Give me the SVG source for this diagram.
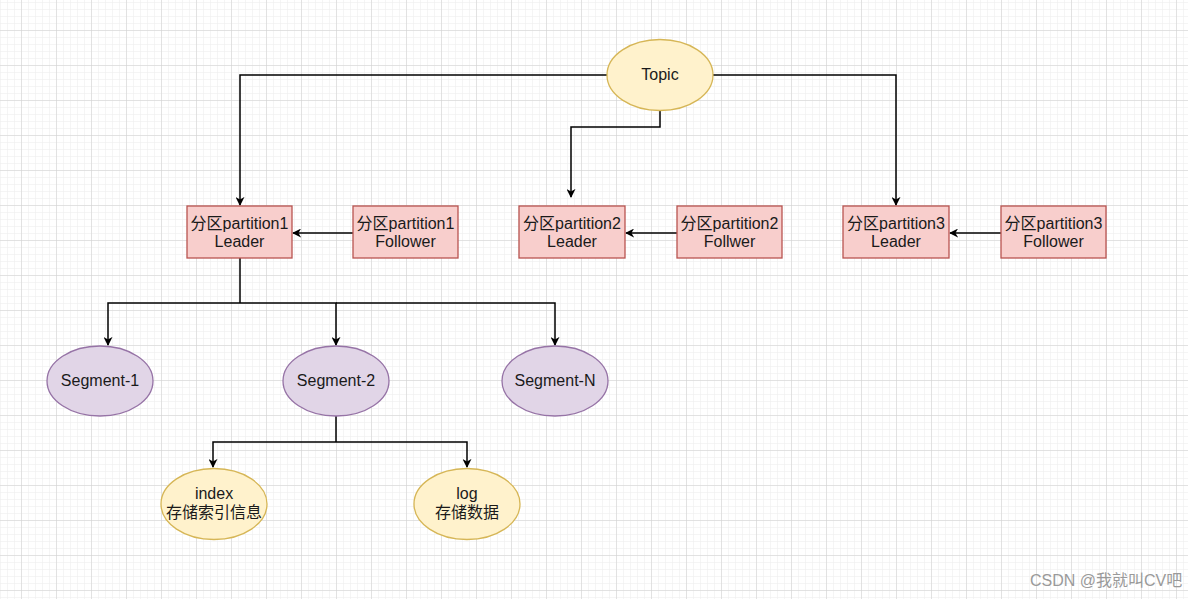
<svg xmlns="http://www.w3.org/2000/svg" width="1188" height="599" viewBox="0 0 1188 599">
<style>
.t{font-family:"Liberation Sans","Noto Sans CJK SC",Arial,sans-serif;font-size:16px;fill:#1a1a1a;text-anchor:middle}
.yel{fill:#fff2cc;stroke:#d6b656;stroke-width:1.3}
.red{fill:#f8cecc;stroke:#b85450;stroke-width:1.3}
.pur{fill:#e1d5e7;stroke:#9673a6;stroke-width:1.3}
.e{fill:none;stroke:#000;stroke-width:1.5;marker-end:url(#arr)}
.l{fill:none;stroke:#000;stroke-width:1.5}
</style>
<defs>
<pattern id="minor" x="21" y="30" width="7" height="7" patternUnits="userSpaceOnUse">
<path d="M0,0 H7 M0,0 V7" fill="none" stroke="#ececec" stroke-width="1"/>
</pattern>
<pattern id="major" x="21" y="30" width="35" height="35" patternUnits="userSpaceOnUse">
<path d="M0,0 H35 M0,0 V35" fill="none" stroke="#d0d0d0" stroke-width="1"/>
</pattern>
<marker id="arr" viewBox="0 0 10 10" refX="9" refY="5" markerWidth="9" markerHeight="9" orient="auto" markerUnits="userSpaceOnUse">
<path d="M0,0 L10,5 L0,10 L3,5 z" fill="#000"/>
</marker>
</defs>
<rect width="1188" height="599" fill="#fff"/>
<rect width="1188" height="599" fill="url(#minor)"/>
<rect width="1188" height="599" fill="url(#major)"/>

<g id="connectors">
<path class="e" d="M607,75 H240 V205"/>
<path class="e" d="M660,111 V127 H571 V197"/>
<path class="e" d="M713,75 H896 V205"/>
<path class="e" d="M353,233 H293"/>
<path class="e" d="M677,233 H626"/>
<path class="e" d="M1001,233 H950"/>
<path class="l" d="M240,258 V303"/>
<path class="e" d="M240,303 H108 V345"/>
<path class="e" d="M240,303 H336 V345"/>
<path class="e" d="M336,303 H555 V345"/>
<path class="l" d="M336,416 V442"/>
<path class="e" d="M336,442 H213 V467"/>
<path class="e" d="M336,442 H467 V467"/>
</g>

<g id="topic"><ellipse class="yel" cx="660" cy="75" rx="53" ry="35.5"/><text class="t" x="660" y="80">Topic</text></g>

<g id="p1leader"><rect class="red" x="187" y="206" width="105" height="52"/><text class="t" x="239.5" y="229">分区partition1</text><text class="t" x="239.5" y="247">Leader</text></g>
<g id="p1follower"><rect class="red" x="353" y="206" width="105" height="52"/><text class="t" x="405.5" y="229">分区partition1</text><text class="t" x="405.5" y="247">Follower</text></g>
<g id="p2leader"><rect class="red" x="519" y="206" width="106" height="52"/><text class="t" x="572" y="229">分区partition2</text><text class="t" x="572" y="247">Leader</text></g>
<g id="p2follower"><rect class="red" x="677" y="206" width="105" height="52"/><text class="t" x="729.5" y="229">分区partition2</text><text class="t" x="729.5" y="247">Follwer</text></g>
<g id="p3leader"><rect class="red" x="843" y="206" width="106" height="52"/><text class="t" x="896" y="229">分区partition3</text><text class="t" x="896" y="247">Leader</text></g>
<g id="p3follower"><rect class="red" x="1001" y="206" width="105" height="52"/><text class="t" x="1053.5" y="229">分区partition3</text><text class="t" x="1053.5" y="247">Follower</text></g>

<g id="seg1"><ellipse class="pur" cx="100" cy="381" rx="53" ry="35"/><text class="t" x="100" y="386">Segment-1</text></g>
<g id="seg2"><ellipse class="pur" cx="336" cy="381" rx="53" ry="35"/><text class="t" x="336" y="386">Segment-2</text></g>
<g id="segN"><ellipse class="pur" cx="555" cy="381" rx="53" ry="35"/><text class="t" x="555" y="386">Segment-N</text></g>

<g id="index"><ellipse class="yel" cx="214" cy="504" rx="53" ry="35.5"/><text class="t" x="214" y="499">index</text><text class="t" x="214" y="518">存储索引信息</text></g>
<g id="log"><ellipse class="yel" cx="467" cy="504" rx="53" ry="35.5"/><text class="t" x="467" y="499">log</text><text class="t" x="467" y="518">存储数据</text></g>

<text x="1030" y="586" style="font-family:'Liberation Sans','Noto Sans CJK SC',sans-serif;font-size:16px;fill:#9a9a9a">CSDN @我就叫CV吧</text>
</svg>
